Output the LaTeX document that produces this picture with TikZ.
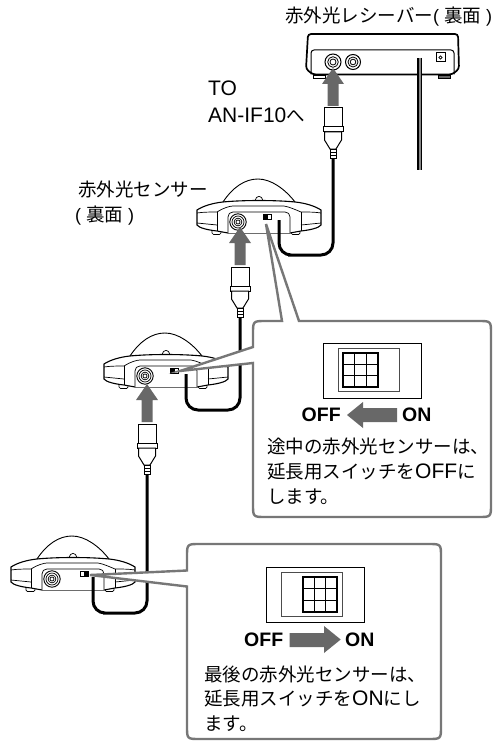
\documentclass[tikz,border=0pt]{standalone}
\usepackage{fontspec}
\setmainfont{Liberation Sans}
\newfontfamily\cjk{Noto Sans CJK JP}
\newcommand{\jpsz}{\fontsize{18.5}{22}\selectfont}
\newcommand{\latsz}{\fontsize{21}{24}\selectfont}
\newcommand{\lat}[1]{{\rmfamily\fontsize{21}{24}\selectfont #1}}
\definecolor{arrowgray}{HTML}{686868}
\definecolor{callgray}{HTML}{777777}
\tikzset{
  line/.style={draw=black,line width=0.9pt},
  thinl/.style={draw=black,line width=0.7pt},
  cable/.style={draw=black,line width=3pt,rounded corners=12pt},
  callout/.style={draw=callgray,fill=white,line width=2.4pt,line join=miter},
  grayarrow/.style={fill=arrowgray,draw=none},
  plugpart/.style={draw=black,line width=1pt,fill=white},
  jptext/.style={font=\cjk\jpsz,anchor=west,inner sep=0pt},
  lattext/.style={font=\latsz,anchor=west,inner sep=0pt},
  boldtext/.style={font=\bfseries\fontsize{19.5}{24}\selectfont,anchor=west,inner sep=0pt},
  sensor/.pic={
    \path[line,fill=white] (-15,-20) .. controls (-5,-35) and (7,-43) .. (20,-43) .. controls (33,-43) and (47,-33) .. (57,-20) -- cycle;
    \path[thinl,fill=white] (21,-22) circle (3.6);
    \path[thinl,fill=white,rounded corners=1.5pt] (-26,7) rectangle (-17,12.5);
    \path[thinl,fill=white,rounded corners=1.5pt] (53,7) rectangle (62,12.5);
    \path[draw=black,line width=1.1pt,fill=white] (-41,-12) .. controls (-35,-16) and (-25,-19) .. (-15,-20) .. controls (5,-22) and (37,-22) .. (57,-20) .. controls (67,-19) and (77,-16) .. (83,-12) -- (83,3) .. controls (81,6) and (72,8) .. (63,9) -- (52,11) -- (-10,11) -- (-21,9) .. controls (-30,8) and (-39,6) .. (-41,3) -- cycle;
    \path[thinl] (-41,-9) .. controls (-35,-10) and (-26,-10) .. (-21,-10) .. controls (-15,-14) and (-8,-16) .. (-5,-16) -- (46,-16) .. controls (52,-15) and (58,-12) .. (63,-10) .. controls (70,-10) and (77,-10) .. (83,-9);
    \path[thinl] (-21,-10) -- (-21,9) (63,-10) -- (63,9);
    \path[thinl] (-41,1) -- (-21,3) (63,3) -- (83,1);
    \path[thinl,fill=white] (-10,11) -- (-10,-5) .. controls (-10,-8) and (-8,-10) .. (-5,-10) -- (47,-10) .. controls (50,-10) and (52,-8) .. (52,-5) -- (52,11);
    \path[line,fill=white] (0,0) circle (8.2);
    \path[thinl] (0,0) circle (6);
    \path[thinl] (0,0) circle (3.9);
    \path[thinl] (0,0) circle (2);
    \coordinate (-jack) at (0,0);
    \coordinate (-out) at (41,-2);
  },
  switchoff/.pic={
    \path[line,fill=white] (25,-8) rectangle (33,-3);
    \fill[black] (25,-8) rectangle (29.5,-3);
  },
  switchon/.pic={
    \path[line,fill=white] (28,-8) rectangle (36,-3);
    \fill[black] (32,-8) rectangle (36,-3);
  },
  plug/.pic={
    \path[grayarrow] (0,0) -- (11,16) -- (5.5,16) -- (5.5,38) -- (-5.5,38) -- (-5.5,16) -- (-11,16) -- cycle;
    \path[plugpart] (-9,40) -- (9,40) -- (9,59) -- (-9,59) -- cycle;
    \path[plugpart] (-10,59) -- (10,59) -- (10,64) -- (-10,64) -- cycle;
    \path[plugpart] (-8.5,64) -- (-8.5,72) -- (-3,81) -- (3,81) -- (8.5,72) -- (8.5,64) -- cycle;
    \path[thinl,fill=white] (-3,81) -- (3,81) -- (3,90) -- (-3,90) -- cycle;
    \path[thinl] (-3,84) -- (3,84) (-3,87) -- (3,87);
    \coordinate (-tip) at (0,90);
  },
  dip/.pic={
    \path[line,fill=white] (0,0) rectangle (98.5,55);
    \path[draw=black!70,line width=0.8pt] (15,5) rectangle (76,48.5);
    \begin{scope}[shift={(\dipx,9.4)}]
      \path[thinl] (11.5,0) -- (11.5,34.4) (23,0) -- (23,34.4) (0,11.5) -- (34.4,11.5) (0,23) -- (34.4,23);
      \path[draw=black,line width=2pt] (0,0) rectangle (34.4,34.4);
    \end{scope}
  }
}
\newcommand{\dipx}{20.3}
\begin{document}
\begin{tikzpicture}[x=1pt,y=-1pt]
\useasboundingbox (0,0) rectangle (493,741);
% receiver
\path[draw=black,line width=1pt,fill=white] (313,76) rectangle (325,79);
\path[draw=black,line width=1pt,fill=black!60] (438,76) rectangle (450,79);
\path[draw=black,line width=1.7pt,fill=white,rounded corners=3pt] (306,69) -- (308,34) -- (458,34) -- (459,69) -- (452,74.5) -- (313,74.5) -- cycle;
\path[draw=black,line width=1pt,rounded corners=3pt] (311,74.5) -- (311,50) -- (454,50) -- (454,74.5);
\draw[line width=1pt] (333,62) circle (8) (353,62) circle (7.5);
\draw[line width=0.8pt] (333,62) circle (5.3) (353,62) circle (5);
\draw[line width=0.8pt] (333,62) circle (3) (353,62) circle (2.8);
\draw[line width=1pt] (436,53) rectangle (445,62);
\draw[line width=0.8pt] (440.5,57.5) circle (1.6);
\draw[black,line width=5pt] (419.5,58) -- (419.5,170);
\draw[arrowgray!80,line width=2pt] (419.5,58) -- (419.5,170);
\node[jptext] (rxlabel) at (285,17) {赤外光レシーバー{\rmfamily\fontsize{18}{22}\selectfont( }裏面{\rmfamily\fontsize{18}{22}\selectfont~)}};
\node[lattext] (tolabel) at (208,88) {TO};
\node[lattext] (anlabel) at (208,115) {AN-IF10{\cjk\jpsz へ}};
\node[jptext] (sensorlabel) at (78,190) {赤外光センサー};
\node[jptext] (backlabel) at (75,216) {{\rmfamily\fontsize{18}{22}\selectfont(~}裏面{\rmfamily\fontsize{18}{22}\selectfont~)}};
% sensors
\pic (s1) at (238,222) {sensor};
\pic at (238,222) {switchoff};
\pic (s2) at (145,376) {sensor};
\pic at (145,376) {switchoff};
\pic (s3) at (52,579) {sensor};
\pic at (52,579) {switchon};
% plugs
\pic (p1) at (333,68) {plug};
\pic (p2) at (240,227) {plug};
\pic (p3) at (147,384) {plug};
% cables
\coordinate (c1) at (300,255);
\coordinate (c2) at (210,410);
\coordinate (c3) at (115,613);
\draw[cable] (s1-out) |- (c1) -| (p1-tip);
\draw[cable] (s2-out) |- (c2) -| (p2-tip);
\draw[cable] (s3-out) |- (c3) -| (p3-tip);
% callout 1
\path[callout] (282,321) -- (266,224) -- (299,321) -- (478,321) .. controls (491,321) .. (491,334) -- (491,504) .. controls (491,517) .. (478,517) -- (266,517) .. controls (253,517) .. (253,504) -- (253,363) -- (180,371) -- (253,347) -- (253,334) .. controls (253,321) .. (266,321) -- cycle;
\pic at (323,343.3) {dip};
\path[grayarrow] (347,415) -- (363,402) -- (363,408) -- (397,408) -- (397,422) -- (363,422) -- (363,428) -- cycle;
\node[boldtext] (off1) at (301.5,415) {OFF};
\node[boldtext] (on1) at (402,415) {ON};
\node[jptext] (t11) at (267,447) {途中の赤外光センサーは、};
\node[jptext] (t12) at (267,472) {延長用スイッチを\lat{OFF}に};
\node[jptext] (t13) at (267,497) {します。};
% callout 2
\path[callout] (187,570.5) -- (187,557) .. controls (187,544) .. (200,544) -- (428,544) .. controls (441,544) .. (441,557) -- (441,726) .. controls (441,739) .. (428,739) -- (200,739) .. controls (187,739) .. (187,726) -- (187,586.5) -- (90,575) -- cycle;
\renewcommand{\dipx}{36.7}
\pic at (266,567.7) {dip};
\path[grayarrow] (340.7,639.5) -- (324,626) -- (324,633) -- (289.5,633) -- (289.5,647) -- (324,647) -- (324,653) -- cycle;
\node[boldtext] (off2) at (244,640) {OFF};
\node[boldtext] (on2) at (345,640) {ON};
\node[jptext] (t21) at (204,675) {最後の赤外光センサーは、};
\node[jptext] (t22) at (204,699) {延長用スイッチを\lat{ON}にし};
\node[jptext] (t23) at (204,724) {ます。};
\end{tikzpicture}
\end{document}
